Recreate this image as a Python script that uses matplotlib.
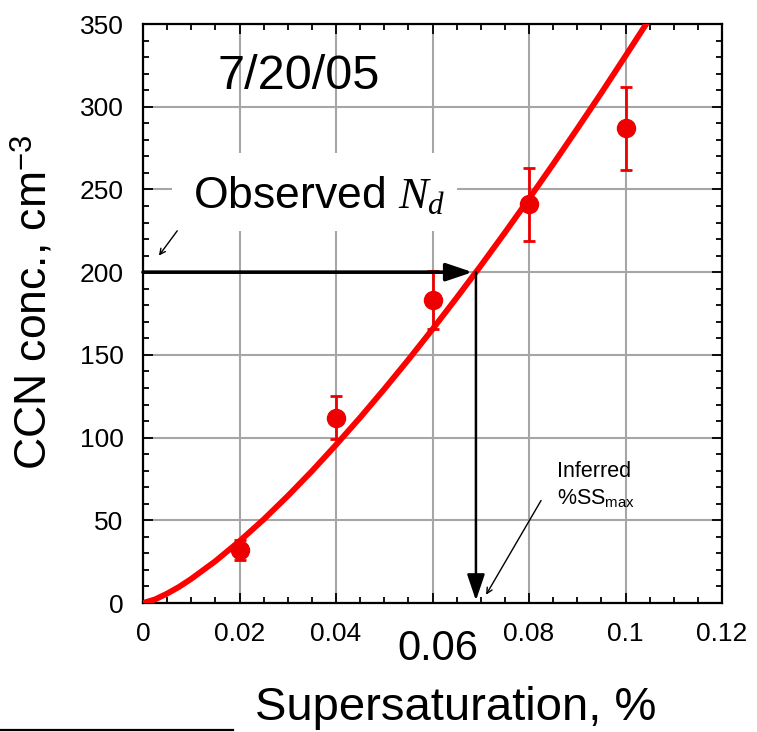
import matplotlib
matplotlib.use("Agg")
import matplotlib.pyplot as plt
from matplotlib.patches import Rectangle, ArrowStyle
from matplotlib.lines import Line2D

plt.rcParams['font.family'] = ['Liberation Sans', 'DejaVu Sans']
plt.rcParams['mathtext.fontset'] = 'custom'
plt.rcParams['mathtext.rm'] = 'Liberation Sans'
plt.rcParams['mathtext.it'] = 'Liberation Serif:italic'

# measured CCN spectrum (supersaturation %, conc cm^-3, error)
ss = [0.02, 0.04, 0.06, 0.08, 0.10]
ccn = [32, 112, 183, 241, 287]
ccn_err = [6, 13, 17.5, 22, 25]

# fitted curve
fit_ss = [0, 0.0025, 0.005, 0.0075, 0.01, 0.015, 0.02, 0.025, 0.03, 0.035, 0.04,
          0.045, 0.05, 0.055, 0.06, 0.065, 0.07, 0.075, 0.08, 0.085, 0.09,
          0.095, 0.10, 0.105]
fit_ccn = [0, 2.2, 5.7, 9.8, 14.6, 25.3, 37.4, 50.5, 64.7, 79.7, 95.6,
           112.1, 129.3, 147.1, 165.5, 184.5, 203.9, 223.9, 244.4, 265.3, 286.7,
           308.4, 330.7, 353.2]

nd_obs = 200
ss_max = 0.069

xticks = [0, 0.02, 0.04, 0.06, 0.08, 0.10, 0.12]
xticklabels = ['0', '0.02', '0.04', '', '0.08', '0.1', '0.12']
yticks = [0, 50, 100, 150, 200, 250, 300, 350]

fig = plt.figure(figsize=(7.57, 7.32), dpi=100)
ax = fig.add_axes([0.1889, 0.1762, 0.7649, 0.791])

ax.set_xlim(0, 0.12)
ax.set_ylim(0, 350)
ax.set_xticks(xticks)
ax.set_xticklabels(xticklabels)
ax.set_yticks(yticks)
ax.set_xticks([i * 0.005 for i in range(25)], minor=True)
ax.set_yticks(list(range(0, 351, 10)), minor=True)
ax.tick_params(which='both', direction='in', top=True, right=True, width=1.3,
               labelsize=19)
ax.tick_params(which='major', length=7)
ax.tick_params(which='minor', length=4)
ax.tick_params(axis='x', pad=14)
ax.tick_params(axis='y', pad=14)
for s in ax.spines.values():
    s.set_linewidth(1.6)

ax.grid(True, which='major', color='#a6a6a6', lw=1.5, zorder=0)
ax.set_axisbelow(True)

# white box behind the "Observed N_d" label hides the grid
ax.add_patch(Rectangle((0.006, 225), 0.059, 47, facecolor='white',
                       edgecolor='none', zorder=1))

ax.plot(fit_ss, fit_ccn, color='#ff0000', lw=4.2, zorder=3,
        solid_capstyle='round', solid_joinstyle='round')
ax.errorbar(ss, ccn, yerr=ccn_err, fmt='o', color='#ee0000', ms=13,
            elinewidth=2.0, capsize=4.5, capthick=2.0, zorder=4)

big_head = ArrowStyle('-|>', head_length=0.8, head_width=0.27)
ax.annotate('', xy=(ss_max - 0.0007, nd_obs), xytext=(0, nd_obs),
            arrowprops=dict(arrowstyle=big_head, mutation_scale=20, lw=2.6,
                            color='black', shrinkA=0, shrinkB=0), zorder=5)
ax.annotate('', xy=(ss_max, 1.5), xytext=(ss_max, nd_obs),
            arrowprops=dict(arrowstyle=big_head, mutation_scale=20, lw=1.8,
                            color='black', shrinkA=0, shrinkB=0), zorder=5)

ax.text(0.0155, 311, '7/20/05', fontsize=35, ha='left', va='baseline', zorder=6)
ax.text(0.0104, 239, 'Observed $N_d$', fontsize=32, ha='left', va='baseline',
        zorder=6)
ax.annotate('', xy=(0.0033, 210), xytext=(0.0071, 225),
            arrowprops=dict(arrowstyle='->', lw=1.0, color='black',
                            shrinkA=0, shrinkB=0))

ax.text(0.0858, 76, 'Inferred', fontsize=15.5, ha='left', va='baseline')
ax.text(0.0858, 60, r'%SS$_{\mathrm{max}}$', fontsize=15.5, ha='left',
        va='baseline')
ax.annotate('', xy=(0.0711, 5), xytext=(0.0825, 62),
            arrowprops=dict(arrowstyle='->', lw=1.0, color='black',
                            shrinkA=0, shrinkB=0))

# enlarged 0.06 label and axis titles
fig.text(438 / 757, 1 - 660 / 732, '0.06', fontsize=30, ha='center',
         va='baseline')
fig.text(456 / 757, 1 - 720 / 732, 'Supersaturation, %', fontsize=34,
         ha='center', va='baseline')
fig.text(33 / 757, 1 - 302 / 732, 'CCN conc., cm$^{\\mathrm{-3}}$', fontsize=32,
         rotation=90, ha='center', va='center')

fig.add_artist(Line2D([0, 233 / 757], [1 - 730 / 732, 1 - 730 / 732],
                      color='black', lw=1.6))

fig.savefig('out.png', dpi=100)
